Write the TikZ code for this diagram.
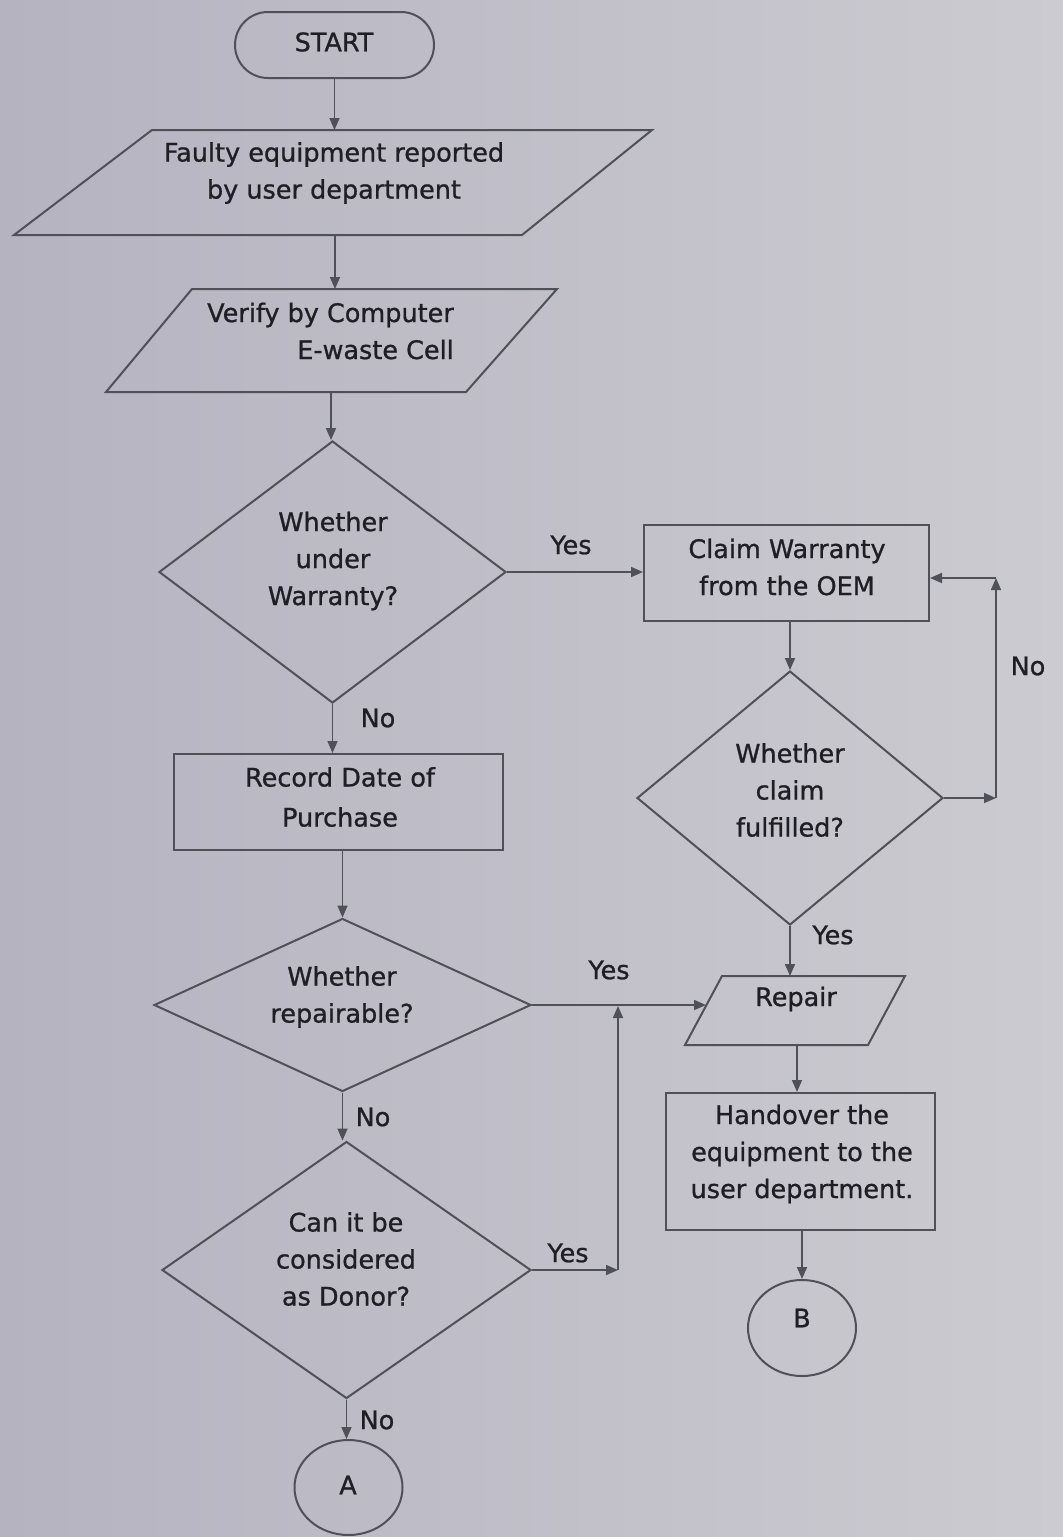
\documentclass[tikz,border=0pt]{standalone}
\usepackage{fontspec}
\setmainfont[FakeBold=0.9]{DejaVu Sans}
\usetikzlibrary{arrows.meta,shapes.geometric,calc}
\definecolor{bgL}{RGB}{181,179,192}
\definecolor{bgR}{RGB}{204,203,209}
\definecolor{lncol}{RGB}{80,80,88}
\definecolor{txcol}{RGB}{30,30,36}
\begin{document}
\begin{tikzpicture}[x=1pt,y=-1pt,
  shp/.style={draw=lncol,line width=2pt},
  boxshape/.style={shp,rectangle,inner sep=0pt},
  diashape/.style={shp,diamond,inner sep=0pt},
  ovalshape/.style={shp,ellipse,inner sep=0pt,minimum width=108pt,minimum height=96pt},
  txt/.style={font=\fontsize{25.5}{37}\selectfont,text=txcol,align=center,inner sep=0pt},
  lbl/.style={font=\fontsize{25.5}{30}\selectfont,text=txcol,inner sep=0pt},
  arr/.style={draw=lncol,line width=1.6pt,-{Triangle[length=12pt,width=10pt]}},
  plain/.style={draw=lncol,line width=1.6pt}
]
% background
\shade[left color=bgL,right color=bgR] (0,0) rectangle (1063,1537);
\useasboundingbox (0,0) rectangle (1063,1537);

% START
\node[boxshape,rounded corners=33pt,minimum width=199pt,minimum height=66pt] (start) at (334.5,45) {};
\node[txt] (startT) at (334,42) {START};

% parallelogram 1
\draw[shp] (152,130) -- (652,130) -- (522,235) -- (14,235) -- cycle;
\coordinate (p1t) at (334.5,130);
\coordinate (p1b) at (335,235);
\node[txt] (p1) at (334,173) {Faulty equipment reported\\by user department};

% parallelogram 2
\draw[shp] (192,289) -- (557,289) -- (466,392) -- (106,392) -- cycle;
\coordinate (p2t) at (335,289);
\coordinate (p2b) at (331,392);
\node[txt,align=right,anchor=east] (p2) at (454,331) {Verify by Computer\\E-waste Cell};

% decision 1
\node[diashape,minimum width=347pt,minimum height=262pt] (d1) at (332.5,572) {};
\node[txt] (d1T) at (333,561) {Whether\\under\\Warranty?};

% claim box
\node[boxshape,minimum width=285pt,minimum height=96pt] (claim) at (786.5,573) {};
\node[txt] (claimT) at (787,567) {Claim Warranty\\from the OEM};

% decision 2
\node[diashape,minimum width=306pt,minimum height=254pt] (d2) at (790,798) {};
\node[txt] (d2T) at (790,790) {Whether\\claim\\fulfilled?};
\coordinate (nc1) at (996,798);
\coordinate (nc2) at (996,578);

% record box
\node[boxshape,minimum width=329pt,minimum height=96pt] (record) at (338.5,802) {};
\node[txt,font=\fontsize{25.5}{40}\selectfont] (recordT) at (340,797) {Record Date of\\Purchase};

% decision 3
\node[diashape,minimum width=377pt,minimum height=173pt] (d3) at (342.5,1005) {};
\node[txt] (d3T) at (342,997) {Whether\\repairable?};

% repair
\draw[shp] (722,976) -- (905,976) -- (868,1045) -- (685,1045) -- cycle;
\coordinate (rpt) at (793,976);
\coordinate (rpb) at (797,1045);
\coordinate (rin) at (706,1005);
\node[txt] (repairT) at (796,999) {Repair};

% handover
\node[boxshape,minimum width=269pt,minimum height=137pt] (hand) at (800.5,1161.5) {};
\node[txt] (handT) at (802,1154) {Handover the\\equipment to the\\user department.};

% B
\node[ovalshape] (B) at (802,1328) {};
\node[txt] (BT) at (802,1318) {B};

% decision 4
\node[diashape,minimum width=369pt,minimum height=257pt] (d4) at (346.5,1270) {};
\node[txt] (d4T) at (346,1259) {Can it be\\considered\\as Donor?};
\coordinate (nd1) at (618,1270);
\coordinate (nd2) at (618,1006);

% A
\node[ovalshape,minimum height=95pt] (A) at (348.5,1487.5) {};
\node[txt] (AT) at (348,1485) {A};

% connectors
\draw[arr] (start.south) -- (p1t);
\draw[arr] (p1b) -- (p2t);
\draw[arr] (p2b) -- (p2b |- d1.north);
\draw[arr] (d1.east) -- (d1.east -| claim.west);
\draw[arr] (d2.north |- claim.south) -- (d2.north);
\draw[arr] (d2.east) -- (nc1);
\draw[arr] (nc1) -- (nc2);
\draw[arr] (nc2) -- (nc2 -| claim.east);
\draw[arr] (d1.south) -- (d1.south |- record.north);
\draw[arr] (d3.north |- record.south) -- (d3.north);
\draw[arr] (d3.east) -- (rin);
\draw[arr] (d2.south) -- (d2.south |- rpt);
\draw[arr] (rpb) -- (rpb |- hand.north);
\draw[arr] (B.north |- hand.south) -- (B.north);
\draw[arr] (d3.south) -- (d3.south |- d4.north);
\draw[arr] (d4.east) -- (nd1);
\draw[arr] (nd1) -- (nd2);
\draw[arr] (d4.south) -- (d4.south |- A.north);

% labels
\node[lbl] (l1) at (571,545) {Yes};
\node[lbl] (l2) at (378,718) {No};
\node[lbl] (l3) at (1028,666) {No};
\node[lbl] (l4) at (833,935) {Yes};
\node[lbl] (l5) at (609,970) {Yes};
\node[lbl] (l6) at (373,1117) {No};
\node[lbl] (l7) at (568,1253) {Yes};
\node[lbl] (l8) at (377,1420) {No};
\end{tikzpicture}
\end{document}
